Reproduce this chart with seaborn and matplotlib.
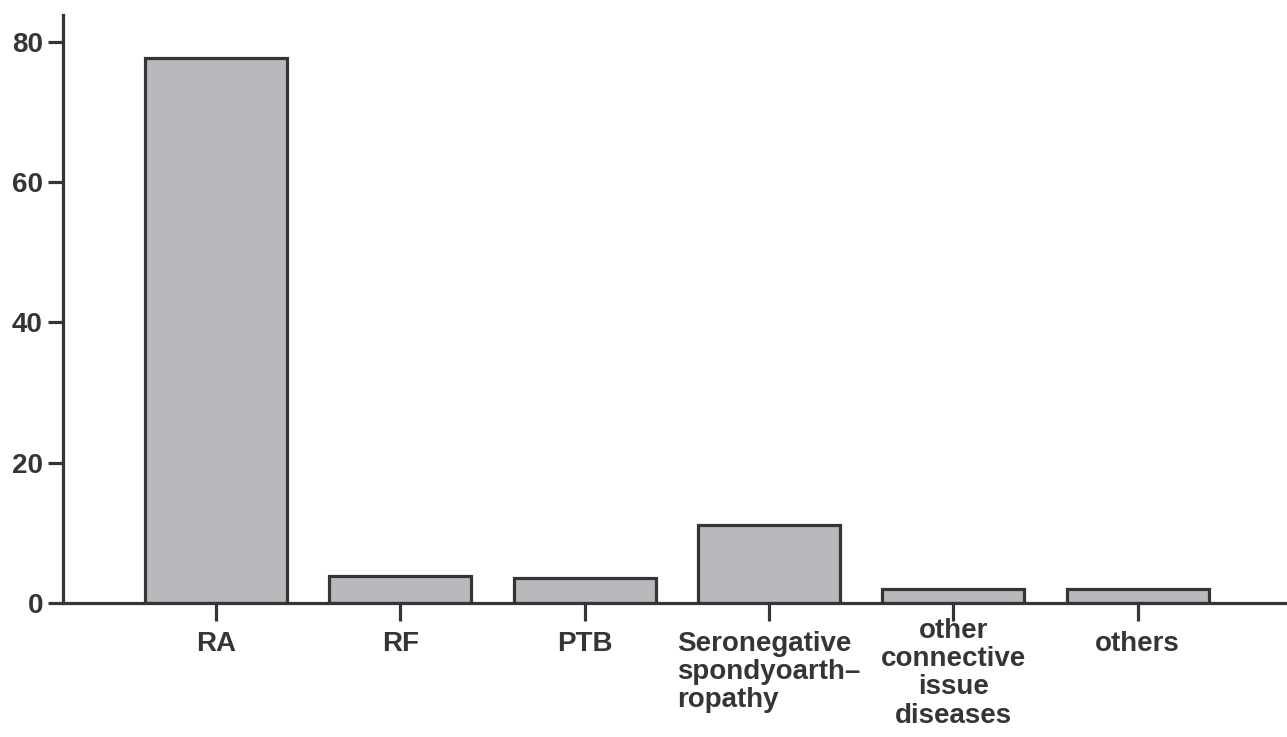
import pandas as pd
import seaborn as sns
import matplotlib.pyplot as plt
from matplotlib.transforms import ScaledTranslation

categories = ["RA", "RF", "PTB",
              "Seronegative\nspondyoarth–\nropathy",
              "other\nconnective\nissue\ndiseases",
              "others"]
counts = [77.8, 3.9, 3.6, 11.1, 2.0, 2.0]
yticks = [0, 20, 40, 60, 80]

sns.set_style("ticks")
plt.rcParams['font.family'] = ['Liberation Sans', 'DejaVu Sans']
plt.rcParams['font.weight'] = 'bold'

ink = "#353535"
df = pd.DataFrame({"cat": categories, "n": counts})

fig = plt.figure(figsize=(12.87, 7.37), dpi=100)
ax = fig.add_axes([0.049, 0.182, 0.951, 0.798])

sns.barplot(data=df, x="cat", y="n", color="#b8b9bc", saturation=1,
            width=0.77, edgecolor=ink, linewidth=2.3, ax=ax)

ax.set_xlim(-0.83, 5.81)
ax.set_ylim(0, 83.9)
ax.set_yticks(yticks)
ax.set_xlabel("")
ax.set_ylabel("")
sns.despine(ax=ax)
for s in ["left", "bottom"]:
    ax.spines[s].set_color(ink)
    ax.spines[s].set_linewidth(2.3)

ax.tick_params(axis="y", length=11, width=2.3, pad=3.5, color=ink,
               labelsize=20, labelcolor=ink)
ax.tick_params(axis="x", length=13, width=2.3, pad=7, color=ink,
               labelsize=20, labelcolor=ink)
for lab in ax.get_xticklabels():
    lab.set_fontweight("bold")
    lab.set_linespacing(1.12)
    if lab.get_text().startswith("Seronegative"):
        lab.set_multialignment("left")
    else:
        lab.set_multialignment("center")
    if lab.get_text().startswith("other\n"):
        # this label sits a little higher in the original
        lab.set_transform(lab.get_transform() +
                          ScaledTranslation(0, 13 / 100, fig.dpi_scale_trans))
for lab in ax.get_yticklabels():
    lab.set_fontweight("bold")

fig.savefig("out.png", dpi=100)
